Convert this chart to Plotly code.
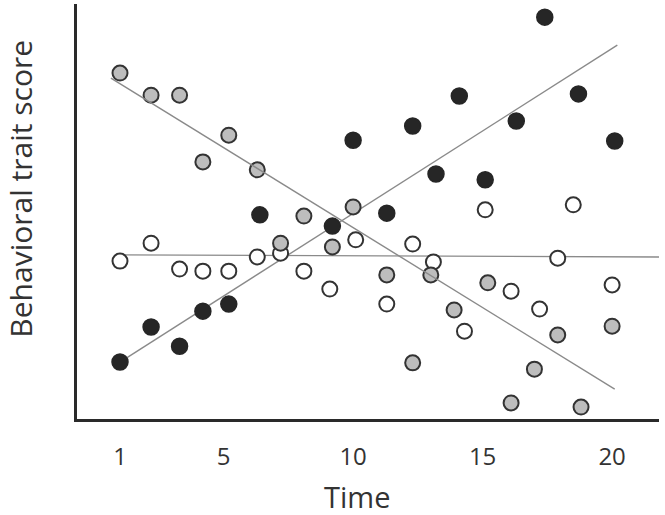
import plotly.graph_objects as go

# --- data (time units, score 0-100) ---
black_t = [1.0, 2.2, 3.3, 4.2, 5.2, 6.4, 9.2, 10.0, 11.3, 12.3, 13.2, 14.1, 15.1, 16.3, 17.4, 18.7, 20.1]
black_y = [13.9, 22.3, 17.7, 26.1, 27.8, 49.2, 46.5, 67.1, 49.6, 70.5, 59.0, 77.7, 57.6, 71.7, 96.6, 78.2, 66.9]

gray_t = [1.0, 2.2, 3.3, 4.2, 5.2, 6.3, 7.2, 8.1, 9.2, 10.0, 11.3, 12.3, 13.0, 13.9, 15.2, 16.1, 17.0, 17.9, 18.8, 20.0]
gray_y = [83.2, 77.9, 77.9, 61.9, 68.3, 60.0, 42.4, 48.9, 41.5, 51.1, 34.8, 13.7, 34.8, 26.4, 32.9, 4.1, 12.2, 20.4, 3.1, 22.5]

white_t = [1.0, 2.2, 3.3, 4.2, 5.2, 6.3, 7.2, 8.1, 9.1, 10.1, 11.3, 12.3, 13.1, 14.3, 15.1, 16.1, 17.2, 17.9, 18.5, 20.0]
white_y = [38.1, 42.4, 36.2, 35.7, 35.7, 39.1, 40.0, 35.7, 31.4, 43.2, 27.8, 42.2, 37.9, 21.3, 50.4, 30.9, 26.6, 38.8, 51.6, 32.4]

# trend lines (start/end)
black_trend_t = [1.0, 20.2]
black_trend_y = [13.9, 89.9]
gray_trend_t = [0.65, 20.1]
gray_trend_y = [82.0, 7.4]
white_trend_t = [1.0, 21.9]
white_trend_y = [39.6, 39.1]

tick_vals = [1, 5, 10, 15, 20]
tick_text = ["1", "5", "10", "15", "20"]

FONT = "Open Sans, DejaVu Sans, sans-serif"
OUT = "#333333"
LINE = "#8a8a8a"

fig = go.Figure()

fig.add_trace(go.Scatter(x=white_trend_t, y=white_trend_y, mode="lines",
                         line=dict(color=LINE, width=1.4), hoverinfo="skip"))
fig.add_trace(go.Scatter(x=black_trend_t, y=black_trend_y, mode="lines",
                         line=dict(color=LINE, width=1.4), hoverinfo="skip"))

fig.add_trace(go.Scatter(x=white_t, y=white_y, mode="markers",
                         marker=dict(size=15, color="white", line=dict(color=OUT, width=2))))
fig.add_trace(go.Scatter(x=gray_t, y=gray_y, mode="markers",
                         marker=dict(size=15, color="#bdbdbd", line=dict(color=OUT, width=2))))
fig.add_trace(go.Scatter(x=black_t, y=black_y, mode="markers",
                         marker=dict(size=16, color="#262626", line=dict(color="#262626", width=1.5))))

fig.add_trace(go.Scatter(x=gray_trend_t, y=gray_trend_y, mode="lines",
                         line=dict(color=LINE, width=1.4), hoverinfo="skip"))

fig.update_layout(
    width=665, height=515,
    margin=dict(l=77, r=6, t=4, b=96),
    paper_bgcolor="white", plot_bgcolor="white",
    showlegend=False,
    font=dict(family=FONT, color=OUT),
    annotations=[
        dict(text="Time", xref="paper", yref="paper", x=0.481, y=-0.186,
             xanchor="center", yanchor="middle", showarrow=False,
             font=dict(size=29, family=FONT, color=OUT)),
        dict(text="Behavioral trait score", xref="paper", yref="paper", x=-0.097, y=0.554,
             xanchor="center", yanchor="middle", showarrow=False, textangle=-90,
             font=dict(size=30, family=FONT, color=OUT)),
    ],
)

fig.update_xaxes(range=[-0.66, 21.81], showgrid=False, zeroline=False,
                 showline=True, linecolor="#2a2a2a", linewidth=3,
                 tickmode="array", tickvals=tick_vals, ticktext=tick_text,
                 ticks="", ticklabelstandoff=14,
                 tickfont=dict(size=24, family=FONT, color=OUT))
fig.update_yaxes(range=[0.24, 99.76], showgrid=False, zeroline=False,
                 showline=True, linecolor="#2a2a2a", linewidth=3,
                 showticklabels=False, ticks="")

fig.write_html("out.html", config={"displayModeBar": False},
               post_script="document.body.style.margin='0';document.body.style.overflow='hidden';")
